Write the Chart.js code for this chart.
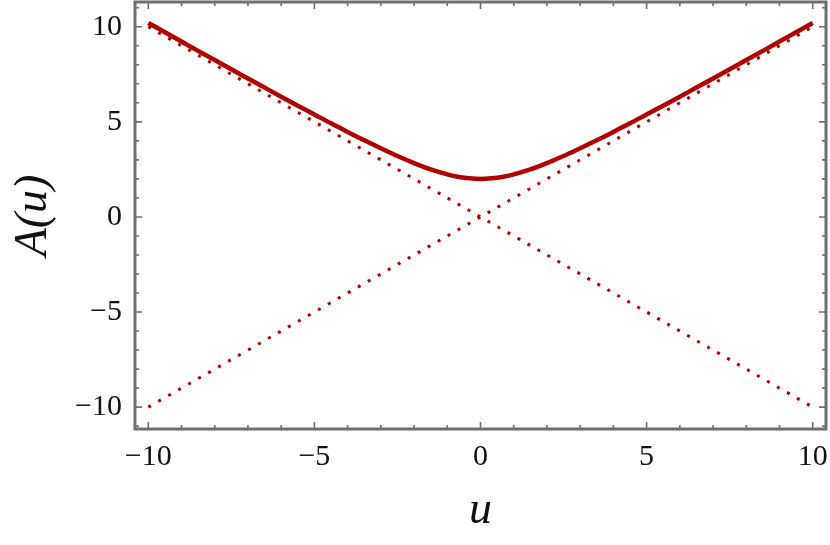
<!DOCTYPE html>
<html>
<head>
<meta charset="utf-8">
<script src="https://cdn.jsdelivr.net/npm/chart.js@4/dist/chart.umd.min.js"></script>
<style>
  html, body { margin: 0; padding: 0; background: #fff; }
  #wrap { width: 830px; height: 545px; }
</style>
</head>
<body>
<div id="wrap"><canvas id="plot"></canvas></div>
<script>
// values
const uValues = [-10, -9.5, -9, -8.5, -8, -7.5, -7, -6.5, -6, -5.5, -5, -4.5, -4, -3.5, -3, -2.5, -2, -1.5, -1, -0.5,
  0, 0.5, 1, 1.5, 2, 2.5, 3, 3.5, 4, 4.5, 5, 5.5, 6, 6.5, 7, 7.5, 8, 8.5, 9, 9.5, 10];
const aValues = [10.2, 9.71, 9.22, 8.73, 8.25, 7.76, 7.28, 6.8, 6.32, 5.85, 5.39, 4.92, 4.47, 4.03, 3.61, 3.2, 2.83, 2.5, 2.24, 2.06,
  2.0, 2.06, 2.24, 2.5, 2.83, 3.2, 3.61, 4.03, 4.47, 4.92, 5.39, 5.85, 6.32, 6.8, 7.28, 7.76, 8.25, 8.73, 9.22, 9.71, 10.2];
const asymU = [-10, 0, 10];
const asymUp = [-10, 0, 10];
const asymDown = [10, 0, -10];

const xTicks = [-10, -5, 0, 5, 10];
const yTicks = [-10, -5, 0, 5, 10];
const xMinor = [-10, -9, -8, -7, -6, -5, -4, -3, -2, -1, 0, 1, 2, 3, 4, 5, 6, 7, 8, 9, 10];
const yMinor = [-11, -10, -9, -8, -7, -6, -5, -4, -3, -2, -1, 0, 1, 2, 3, 4, 5, 6, 7, 8, 9, 10, 11];

const red = '#b00000';
const frameColor = '#6f6f6f';
const serif = '"Liberation Serif", "Times New Roman", serif';

const pts = (xs, ys) => xs.map((x, i) => ({ x: x, y: ys[i] }));
const fmt = v => (v < 0 ? '\u2212' + Math.abs(v) : String(v));

// frame + inward ticks like Mathematica
const framePlugin = {
  id: 'frame',
  afterDatasetsDraw(chart) {
    const { ctx, chartArea: a, scales } = chart;
    const sx = scales.x, sy = scales.y;
    ctx.save();
    ctx.strokeStyle = frameColor;
    ctx.lineWidth = 1.6;
    xMinor.forEach(v => {
      const len = xTicks.includes(v) ? 7 : 4;
      const px = sx.getPixelForValue(v);
      ctx.beginPath();
      ctx.moveTo(px, a.bottom); ctx.lineTo(px, a.bottom - len);
      ctx.moveTo(px, a.top); ctx.lineTo(px, a.top + len);
      ctx.stroke();
    });
    yMinor.forEach(v => {
      const len = yTicks.includes(v) ? 7 : 4;
      const py = sy.getPixelForValue(v);
      if (py < a.top + 2 || py > a.bottom - 2) return;
      ctx.beginPath();
      ctx.moveTo(a.left, py); ctx.lineTo(a.left + len, py);
      ctx.moveTo(a.right, py); ctx.lineTo(a.right - len, py);
      ctx.stroke();
    });
    ctx.lineWidth = 3;
    ctx.strokeRect(a.left, a.top, a.right - a.left, a.bottom - a.top);
    ctx.restore();
  }
};

new Chart(document.getElementById('plot'), {
  type: 'line',
  data: {
    datasets: [
      { data: pts(uValues, aValues), borderColor: red, borderWidth: 4.5, pointRadius: 0, cubicInterpolationMode: 'monotone', order: 0 },
      { data: pts(asymU, asymUp), borderColor: red, borderWidth: 3, borderDash: [3, 8.5], pointRadius: 0, order: 1 },
      { data: pts(asymU, asymDown), borderColor: red, borderWidth: 3, borderDash: [3, 8.5], pointRadius: 0, order: 1 }
    ]
  },
  options: {
    responsive: true,
    maintainAspectRatio: false,
    animation: false,
    layout: { padding: { top: 2, right: 4, left: 0, bottom: 0 } },
    plugins: { legend: { display: false }, tooltip: { enabled: false } },
    scales: {
      x: {
        type: 'linear', min: -10.4, max: 10.4,
        grid: { display: false },
        border: { display: false },
        afterBuildTicks: s => { s.ticks = xTicks.map(v => ({ value: v })); },
        afterFit: s => { s.height = 116; s.paddingLeft = 0; s.paddingRight = 0; },
        ticks: { color: '#111', font: { family: serif, size: 30 }, padding: 2, maxRotation: 0, callback: fmt },
        title: { display: true, text: 'u', color: '#111', font: { family: serif, size: 46, style: 'italic' }, padding: { top: 0, bottom: 6 } }
      },
      y: {
        type: 'linear', min: -11.15, max: 11.3,
        grid: { display: false },
        border: { display: false },
        afterBuildTicks: s => { s.ticks = yTicks.map(v => ({ value: v })); },
        afterFit: s => { s.width = 135; s.paddingTop = 0; s.paddingBottom = 0; },
        ticks: { color: '#111', font: { family: serif, size: 30 }, padding: 5, callback: fmt },
        title: { display: true, text: 'A(u)', color: '#111', font: { family: serif, size: 46, style: 'italic' }, padding: { top: 6, bottom: 0 } }
      }
    }
  },
  plugins: [framePlugin]
});
</script>
</body>
</html>
